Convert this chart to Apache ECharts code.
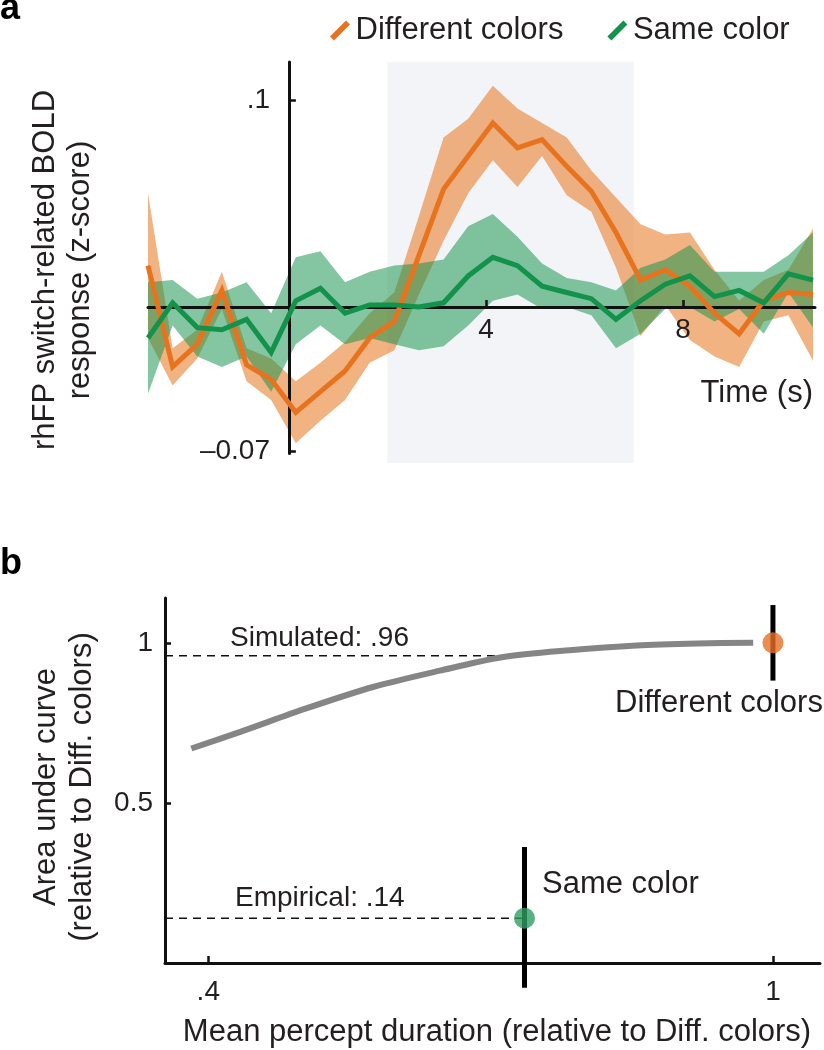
<!DOCTYPE html>
<html><head><meta charset="utf-8">
<script src="https://cdn.jsdelivr.net/npm/echarts@6/dist/echarts.min.js"></script>
<style>html,body{margin:0;padding:0;background:#fff}#c{width:824px;height:1050px}</style>
</head><body><div id="c"></div>
<script>
// ---------- Panel a data ----------
const times = [-2.86, -2.36, -1.86, -1.36, -0.86, -0.36, 0.14, 0.64, 1.14, 1.64, 2.14, 2.64, 3.14, 3.64,
               4.14, 4.64, 5.14, 5.64, 6.14, 6.64, 7.14, 7.64, 8.14, 8.64, 9.14, 9.64, 10.14, 10.64];
const orangeMean = [0.020, -0.029, -0.018, 0.008, -0.028, -0.035, -0.051, -0.041, -0.031, -0.015, -0.007, 0.025, 0.057, 0.073,
                    0.089, 0.077, 0.081, 0.068, 0.056, 0.036, 0.013, 0.018, 0.010, -0.003, -0.013, 0.003, 0.007, 0.006];
const orangeSE   = [0.035, 0.009, 0.007, 0.009, 0.008, 0.010, 0.015, 0.014, 0.014, 0.012, 0.014, 0.019, 0.025, 0.018,
                    0.018, 0.019, 0.008, 0.014, 0.010, 0.017, 0.027, 0.017, 0.026, 0.021, 0.016, 0.010, 0.011, 0.032];
const greenMean  = [-0.015, 0.002, -0.010, -0.011, -0.006, -0.022, 0.003, 0.009, -0.003, 0.001, 0.001, 0.000, 0.002, 0.015,
                    0.024, 0.020, 0.010, 0.007, 0.004, -0.006, 0.003, 0.011, 0.015, 0.005, 0.008, 0.002, 0.016, 0.013];
const greenSE    = [0.027, 0.011, 0.014, 0.018, 0.018, 0.019, 0.021, 0.018, 0.015, 0.016, 0.019, 0.021, 0.021, 0.024,
                    0.021, 0.014, 0.011, 0.007, 0.008, 0.014, 0.016, 0.012, 0.015, 0.012, 0.009, 0.015, 0.009, 0.023];
const seriesNamesA = ['Different colors', 'Same color'];
const xTickValsA = [4, 8];
const xTickLabelsA = ['4', '8'];
const yTickValsA = [-0.07, 0.1];
const yTickLabelsA = ['\u20130.07', '.1'];
const shadeWindow = [2, 7];
const shadeYRange = [-0.0755, 0.1185];

// ---------- Panel b data ----------
const curveX = [0.382, 0.434, 0.504, 0.575, 0.646, 0.712, 0.784, 0.855, 0.920, 0.979];
const curveY = [0.670, 0.722, 0.795, 0.862, 0.913, 0.955, 0.977, 0.992, 0.998, 1.000];
const pointNames = ['Different colors', 'Same color'];
const pointX = [1.0, 0.736];
const pointY = [1.0, 0.14];
const errLow = [0.882, -0.077];
const errHigh = [1.118, 0.362];
const simulatedValue = 0.96, simulatedXEnd = 0.712;
const empiricalValue = 0.14;
const xTickValsB = [0.4, 1];
const xTickLabelsB = ['.4', '1'];
const yTickValsB = [0.5, 1];
const yTickLabelsB = ['0.5', '1'];

// ---------- styling ----------
const FONT = '"Liberation Sans", Arial, Helvetica, sans-serif';
const TXT = '#231f20';
const ORANGE = '#e8731f';
const GREEN = '#12924a';
const ORANGE_BAND = 'rgba(232,119,34,0.56)';
const GREEN_BAND = 'rgba(17,146,74,0.52)';
const AX = '#111';

function lab(vals, labels) {
  return v => { for (let i = 0; i < vals.length; i++) if (Math.abs(vals[i] - v) < 1e-9) return labels[i]; return ''; };
}

function band(mean, se, color, z) {
  return {
    type: 'custom', xAxisIndex: 0, yAxisIndex: 0, z: z, silent: true, clip: false,
    data: times.map((t, i) => [t, mean[i] - se[i], mean[i] + se[i]]),
    encode: { x: 0, y: [1, 2] },
    renderItem(params, api) {
      if (params.dataIndex !== 0) return null;
      const up = times.map((t, i) => api.coord([t, mean[i] + se[i]]));
      const lo = times.map((t, i) => api.coord([t, mean[i] - se[i]])).reverse();
      return { type: 'polygon', shape: { points: up.concat(lo) }, style: { fill: color } };
    }
  };
}

const chart = echarts.init(document.getElementById('c'), null, { renderer: 'canvas' });
const xMinB = 0.354;

const option = {
  animation: false,
  backgroundColor: '#fff',
  textStyle: { fontFamily: FONT },
  legend: {
    data: seriesNamesA, left: 330, top: 15, padding: 0, itemWidth: 21, itemHeight: 20, itemGap: 44,
    icon: 'path://M0,16L16,0L20,4L4,20Z',
    textStyle: { fontSize: 31, fontFamily: FONT, color: TXT }
  },
  grid: [
    { left: 148, top: 62, width: 667, height: 391.5 },
    { left: 165, top: 598, width: 655, height: 365 }
  ],
  xAxis: [
    { gridIndex: 0, type: 'value', min: -2.86, max: 10.68, z: 3,
      axisLine: { onZero: true, lineStyle: { color: AX, width: 3 } },
      axisTick: { inside: true, length: 7, customValues: xTickValsA, lineStyle: { color: AX, width: 2.5 } },
      axisLabel: { customValues: xTickValsA, formatter: lab(xTickValsA, xTickLabelsA), fontSize: 28, margin: -137, color: TXT, fontFamily: FONT },
      splitLine: { show: false } },
    { gridIndex: 1, type: 'value', min: xMinB, max: 1.05, z: 3,
      axisLine: { onZero: false, lineStyle: { color: AX, width: 3 } },
      axisTick: { inside: true, length: 7, customValues: xTickValsB, lineStyle: { color: AX, width: 2.5 } },
      axisLabel: { customValues: xTickValsB, formatter: lab(xTickValsB, xTickLabelsB), fontSize: 28, margin: 15, color: TXT, fontFamily: FONT },
      splitLine: { show: false } }
  ],
  yAxis: [
    { gridIndex: 0, type: 'value', min: -0.0709, max: 0.1185, z: 3,
      axisLine: { show: true, onZero: true, lineStyle: { color: AX, width: 3 } },
      axisTick: { show: true, inside: true, length: 7, customValues: yTickValsA, lineStyle: { color: AX, width: 2.5 } },
      axisLabel: { customValues: yTickValsA, formatter: lab(yTickValsA, yTickLabelsA), fontSize: 28, margin: -122, color: TXT, fontFamily: FONT },
      splitLine: { show: false } },
    { gridIndex: 1, type: 'value', min: 0, max: 1.14, z: 3,
      axisLine: { show: true, onZero: false, lineStyle: { color: AX, width: 3 } },
      axisTick: { show: true, inside: true, length: 6, customValues: yTickValsB, lineStyle: { color: AX, width: 2.5 } },
      axisLabel: { customValues: yTickValsB, formatter: lab(yTickValsB, yTickLabelsB), fontSize: 28, margin: 12, color: TXT, fontFamily: FONT },
      splitLine: { show: false } }
  ],
  series: [
    { type: 'custom', xAxisIndex: 0, yAxisIndex: 0, z: 0, silent: true, clip: false,
      data: [[shadeWindow[0], shadeYRange[0], shadeWindow[1], shadeYRange[1]]],
      encode: { x: [0, 2], y: [1, 3] },
      renderItem(params, api) {
        const p0 = api.coord([api.value(0), api.value(3)]);
        const p1 = api.coord([api.value(2), api.value(1)]);
        return { type: 'rect', shape: { x: p0[0], y: p0[1], width: p1[0] - p0[0], height: p1[1] - p0[1] }, style: { fill: '#f3f4f7' } };
      } },
    band(orangeMean, orangeSE, ORANGE_BAND, 1),
    band(greenMean, greenSE, GREEN_BAND, 2),
    { name: seriesNamesA[0], type: 'line', xAxisIndex: 0, yAxisIndex: 0, z: 5, symbol: 'none',
      data: times.map((t, i) => [t, orangeMean[i]]),
      lineStyle: { color: ORANGE, width: 5, join: 'miter' }, itemStyle: { color: ORANGE } },
    { name: seriesNamesA[1], type: 'line', xAxisIndex: 0, yAxisIndex: 0, z: 6, symbol: 'none',
      data: times.map((t, i) => [t, greenMean[i]]),
      lineStyle: { color: GREEN, width: 5, join: 'miter' }, itemStyle: { color: GREEN } },

    // panel b
    { type: 'line', xAxisIndex: 1, yAxisIndex: 1, z: 4, symbol: 'none', smooth: 0.3,
      data: curveX.map((x, i) => [x, curveY[i]]),
      lineStyle: { color: '#858585', width: 6 } },
    { type: 'line', xAxisIndex: 1, yAxisIndex: 1, z: 2, symbol: 'none',
      data: [[xMinB, simulatedValue], [simulatedXEnd, simulatedValue]],
      lineStyle: { color: AX, width: 1.5, type: [8, 6] } },
    { type: 'line', xAxisIndex: 1, yAxisIndex: 1, z: 2, symbol: 'none',
      data: [[xMinB, empiricalValue], [pointX[1], empiricalValue]],
      lineStyle: { color: AX, width: 1.5, type: [8, 6] } },
    { type: 'custom', xAxisIndex: 1, yAxisIndex: 1, z: 5, clip: false, silent: true,
      data: pointX.map((x, i) => [x, errLow[i], errHigh[i]]),
      encode: { x: 0, y: [1, 2] },
      renderItem(params, api) {
        const a = api.coord([api.value(0), api.value(1)]);
        const b = api.coord([api.value(0), api.value(2)]);
        return { type: 'line', shape: { x1: a[0], y1: a[1], x2: b[0], y2: b[1] }, style: { stroke: '#000', lineWidth: 5 } };
      } },
    { type: 'scatter', xAxisIndex: 1, yAxisIndex: 1, z: 6, symbolSize: 21,
      data: pointX.map((x, i) => ({ name: pointNames[i], value: [x, pointY[i]],
        itemStyle: { color: i === 0 ? '#e86f25' : '#2f9e62' } })) }
  ],
  graphic: [
    { type: 'text', x: 0, y: 9, style: { text: 'a', font: 'bold 36px ' + FONT, fill: '#000', verticalAlign: 'middle', textVerticalAlign: 'middle' } },
    { type: 'text', x: 0, y: 564, style: { text: 'b', font: 'bold 36px ' + FONT, fill: '#000', verticalAlign: 'middle', textVerticalAlign: 'middle' } },
    { type: 'text', x: 813, y: 393, style: { text: 'Time (s)', font: '31px ' + FONT, fill: TXT, align: 'right', textAlign: 'right', verticalAlign: 'middle', textVerticalAlign: 'middle' } },
    { type: 'text', x: 63, y: 270, rotation: Math.PI / 2,
      style: { text: 'rhFP switch-related BOLD\nresponse (z-score)', font: '31px ' + FONT, lineHeight: 35, fill: TXT, align: 'center', textAlign: 'center', verticalAlign: 'middle', textVerticalAlign: 'middle' } },
    { type: 'text', x: 64, y: 787, rotation: Math.PI / 2,
      style: { text: 'Area under curve\n(relative to Diff. colors)', font: '31px ' + FONT, lineHeight: 36, fill: TXT, align: 'center', textAlign: 'center', verticalAlign: 'middle', textVerticalAlign: 'middle' } },
    { type: 'text', x: 230, y: 638, style: { text: 'Simulated: .96', font: '28px ' + FONT, fill: TXT, verticalAlign: 'middle', textVerticalAlign: 'middle' } },
    { type: 'text', x: 615, y: 703, style: { text: 'Different colors', font: '31px ' + FONT, fill: TXT, verticalAlign: 'middle', textVerticalAlign: 'middle' } },
    { type: 'text', x: 542, y: 884, style: { text: 'Same color', font: '31px ' + FONT, fill: TXT, verticalAlign: 'middle', textVerticalAlign: 'middle' } },
    { type: 'text', x: 235, y: 898, style: { text: 'Empirical: .14', font: '28px ' + FONT, fill: TXT, verticalAlign: 'middle', textVerticalAlign: 'middle' } },
    { type: 'text', x: 497, y: 1032, style: { text: 'Mean percept duration (relative to Diff. colors)', font: '31px ' + FONT, fill: TXT, align: 'center', textAlign: 'center', verticalAlign: 'middle', textVerticalAlign: 'middle' } }
  ]
};
chart.setOption(option);
</script></body></html>
